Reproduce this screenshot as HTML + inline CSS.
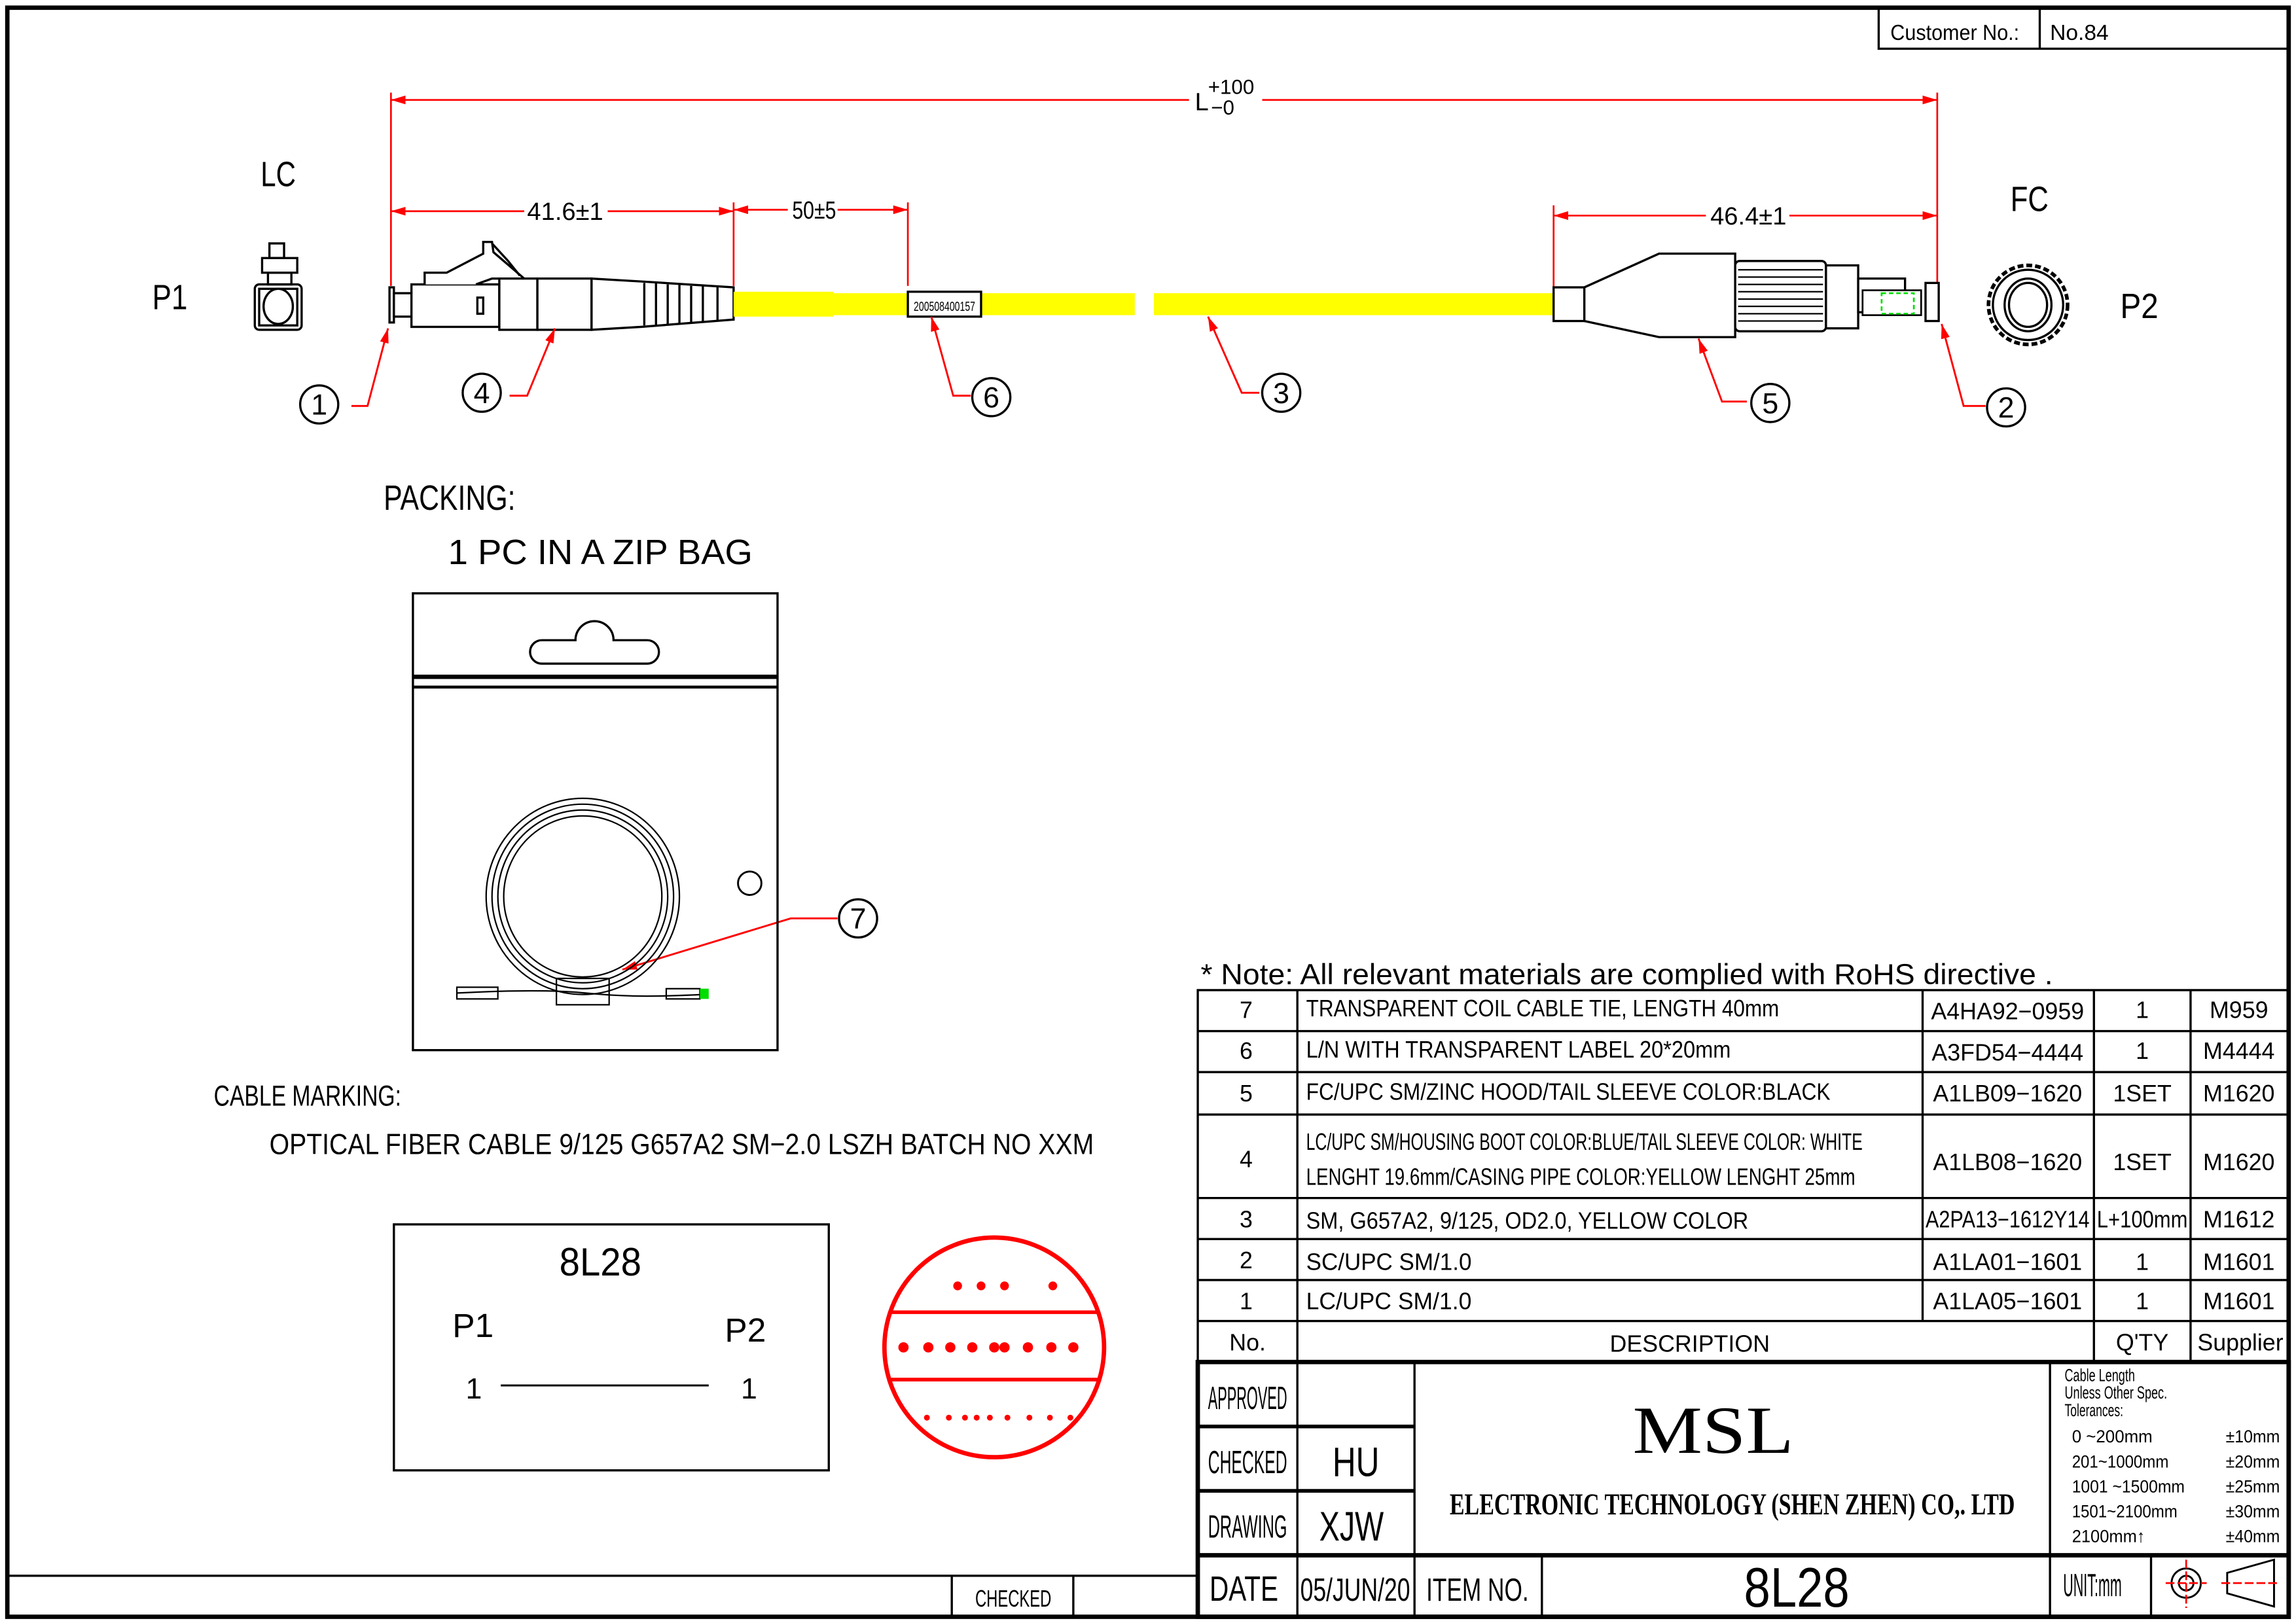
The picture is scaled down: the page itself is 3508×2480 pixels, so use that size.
<!DOCTYPE html>
<html><head><meta charset="utf-8"><style>
html,body{margin:0;padding:0;background:#fff;}
svg{display:block;}
text{font-family:"Liberation Sans Narrow","Liberation Sans",sans-serif;fill:#000;}
</style></head><body>
<svg width="3508" height="2480" viewBox="0 0 1568 1108" xmlns="http://www.w3.org/2000/svg">
<defs>
<marker id="a" viewBox="0 0 10 6" refX="10" refY="3" markerWidth="10" markerHeight="6" markerUnits="userSpaceOnUse" orient="auto-start-reverse"><path d="M0,0L10,3L0,6z" fill="#f00"/></marker>
</defs>
<rect x="0" y="0" width="1568" height="1108" fill="#fff"/>
<rect x="5" y="5" width="1558" height="1099" fill="none" stroke="#000" stroke-width="3"/>
<path d="M1283,5V33H1563M1393,5V33" fill="none" stroke="#000" stroke-width="1.5"/>
<text x="1291" y="27" font-size="15" textLength="88" lengthAdjust="spacingAndGlyphs">Customer No.:</text>
<text x="1400" y="27" font-size="15">No.84</text>

<g stroke="#f00" stroke-width="1.2" fill="none">
<line x1="267" y1="63" x2="267" y2="195"/>
<line x1="1323" y1="63" x2="1323" y2="195"/>
<line x1="267" y1="68" x2="812" y2="68" marker-start="url(#a)"/>
<line x1="862" y1="68" x2="1323" y2="68" marker-end="url(#a)"/>
<line x1="501" y1="138" x2="501" y2="195"/>
<line x1="620" y1="138" x2="620" y2="195"/>
<line x1="267" y1="144" x2="358" y2="144" marker-start="url(#a)"/>
<line x1="415" y1="144" x2="501" y2="144" marker-end="url(#a)"/>
<line x1="501" y1="143" x2="538" y2="143" marker-start="url(#a)"/>
<line x1="572" y1="143" x2="620" y2="143" marker-end="url(#a)"/>
<line x1="1061" y1="140" x2="1061" y2="196"/>
<line x1="1061" y1="147" x2="1165" y2="147" marker-start="url(#a)"/>
<line x1="1222" y1="147" x2="1323" y2="147" marker-end="url(#a)"/>
</g>
<text x="816" y="75" font-size="17">L</text>
<text x="825" y="64" font-size="14">+100</text>
<text x="827" y="78" font-size="14">−0</text>
<text x="360" y="150" font-size="17" textLength="52" lengthAdjust="spacingAndGlyphs">41.6±1</text>
<text x="541" y="149" font-size="17" textLength="30" lengthAdjust="spacingAndGlyphs">50±5</text>
<text x="1168" y="153" font-size="17" textLength="52" lengthAdjust="spacingAndGlyphs">46.4±1</text>

<text x="178" y="127" font-size="24" textLength="24" lengthAdjust="spacingAndGlyphs">LC</text>
<text x="104" y="211" font-size="24" textLength="24" lengthAdjust="spacingAndGlyphs">P1</text>
<text x="1373" y="144" font-size="24" textLength="26" lengthAdjust="spacingAndGlyphs">FC</text>
<text x="1448" y="217" font-size="24" textLength="26" lengthAdjust="spacingAndGlyphs">P2</text>

<g fill="none" stroke="#000" stroke-width="1.5">
<rect x="184" y="166" width="10" height="10"/>
<rect x="179" y="176" width="24" height="10"/>
<rect x="183" y="186" width="16" height="8"/>
<rect x="174" y="194" width="32" height="31" rx="3"/>
<rect x="177" y="197" width="26" height="25"/>
<ellipse cx="190" cy="209" rx="10" ry="12"/>
</g>
<g fill="#fff" stroke="#000" stroke-width="1.5">
<rect x="266" y="196" width="3" height="24"/>
<rect x="269" y="200" width="12" height="16"/>
<rect x="281" y="194" width="60" height="29"/>
<path d="M290,194V186H305L330,173V165H336L337,172L358,190H336L325,194"/>
<path d="M336,166L347,178L355,188"/>
<rect x="326" y="203" width="4" height="11"/>
<rect x="341" y="190" width="26" height="35"/>
<rect x="367" y="190" width="37" height="35"/>
<path d="M404,190L438,192L501,196V218L438,223L404,225Z"/>
</g>
<g stroke="#000" stroke-width="1.5">
<line x1="440" y1="193" x2="440" y2="222"/><line x1="448" y1="193" x2="448" y2="222"/>
<line x1="456" y1="194" x2="456" y2="221"/><line x1="464" y1="194" x2="464" y2="221"/>
<line x1="472" y1="195" x2="472" y2="220"/><line x1="480" y1="195" x2="480" y2="220"/>
<line x1="490" y1="195" x2="490" y2="219"/>
</g>
<rect x="501" y="199" width="68" height="17" fill="#ff0"/>
<rect x="569" y="200" width="206" height="15" fill="#ff0"/>
<rect x="620" y="199" width="50" height="17" fill="#fff" stroke="#000" stroke-width="1.5"/>
<text x="624" y="212" font-size="9" textLength="42" lengthAdjust="spacingAndGlyphs">200508400157</text>
<rect x="788" y="200" width="273" height="15" fill="#ff0"/>
<g fill="#fff" stroke="#000" stroke-width="1.5">
<rect x="1061" y="196" width="21" height="23"/>
<path d="M1082,196L1133,173H1185V230H1133L1082,219Z"/>
<rect x="1185" y="178" width="62" height="48" rx="3"/>
<rect x="1247" y="181" width="22" height="43"/>
<rect x="1269" y="190" width="32" height="23"/>
</g>
<g stroke="#000" stroke-width="1">
<line x1="1187" y1="184" x2="1245" y2="184"/><line x1="1187" y1="189" x2="1245" y2="189"/>
<line x1="1187" y1="194" x2="1245" y2="194"/><line x1="1187" y1="199" x2="1245" y2="199"/>
<line x1="1187" y1="204" x2="1245" y2="204"/><line x1="1187" y1="209" x2="1245" y2="209"/>
<line x1="1187" y1="214" x2="1245" y2="214"/><line x1="1187" y1="219" x2="1245" y2="219"/>
</g>
<rect x="1272" y="198" width="40" height="17" fill="#fff" stroke="#000" stroke-width="1.2"/>
<rect x="1285" y="200" width="22" height="14" fill="none" stroke="#0d0" stroke-width="1.2" stroke-dasharray="3,2"/>
<rect x="1315" y="193" width="9" height="26" fill="#fff" stroke="#000" stroke-width="1.5"/>
<g fill="none" stroke="#000" stroke-width="1.5">
<circle cx="1385" cy="208" r="27" stroke-dasharray="4,2" stroke-width="2.5"/>
<circle cx="1385" cy="208" r="24"/>
<ellipse cx="1385" cy="208" rx="16" ry="18"/>
<ellipse cx="1385" cy="208" rx="13" ry="15"/>
</g>

<g fill="none" stroke="#f00" stroke-width="1.3">
<polyline points="240,277 251,277 265,224" marker-end="url(#a)"/>
<polyline points="348,270 360,270 379,224" marker-end="url(#a)"/>
<polyline points="663,270 651,270 636,216" marker-end="url(#a)"/>
<polyline points="860,268 848,268 825,216" marker-end="url(#a)"/>
<polyline points="1193,274 1176,274 1160,231" marker-end="url(#a)"/>
<polyline points="1356,277 1341,277 1326,221" marker-end="url(#a)"/>
<polyline points="572,627 540,627 425,662" marker-end="url(#a)"/>
</g>
<g fill="#fff" stroke="#000" stroke-width="1.5">
<circle cx="218" cy="276" r="13"/><circle cx="329" cy="268" r="13"/>
<circle cx="677" cy="271" r="13"/><circle cx="875" cy="268" r="13"/>
<circle cx="1209" cy="275" r="13"/><circle cx="1370" cy="278" r="13"/>
<circle cx="586" cy="627" r="13"/>
</g>
<g font-size="20" text-anchor="middle">
<text x="218" y="283">1</text><text x="329" y="275">4</text><text x="677" y="278">6</text>
<text x="875" y="275">3</text><text x="1209" y="282">5</text><text x="1370" y="285">2</text>
<text x="586" y="634">7</text>
</g>

<text x="262" y="348" font-size="24" textLength="90" lengthAdjust="spacingAndGlyphs">PACKING:</text>
<text x="306" y="385" font-size="24" textLength="208" lengthAdjust="spacingAndGlyphs">1  PC  IN  A  ZIP  BAG</text>
<rect x="282" y="405" width="249" height="312" fill="none" stroke="#000" stroke-width="1.5"/>
<line x1="282" y1="462" x2="531" y2="462" stroke="#000" stroke-width="3"/>
<line x1="282" y1="469" x2="531" y2="469" stroke="#000" stroke-width="2"/>
<path d="M370,437H393A13,13 0 0 1 419,437H442A8,8 0 0 1 442,453H370A8,8 0 0 1 370,437Z" fill="none" stroke="#000" stroke-width="1.5"/>
<circle cx="512" cy="603" r="8" fill="none" stroke="#000" stroke-width="1.3"/>
<g fill="none" stroke="#000" stroke-width="1">
<ellipse cx="398" cy="612" rx="66" ry="67"/><ellipse cx="398" cy="612" rx="62" ry="63"/>
<ellipse cx="398" cy="612" rx="58" ry="59"/><ellipse cx="398" cy="612" rx="54" ry="55"/>
<path d="M312,678C350,676 380,676 400,678S440,681 480,679"/>
<rect x="380" y="668" width="36" height="18"/>
<path d="M312,674H340V682H312Z"/><path d="M455,675H478V682H455Z"/>
</g>
<rect x="478" y="675" width="6" height="7" fill="#0d0"/>

<text x="146" y="755" font-size="20" textLength="128" lengthAdjust="spacingAndGlyphs">CABLE MARKING:</text>
<text x="184" y="788" font-size="20" textLength="563" lengthAdjust="spacingAndGlyphs">OPTICAL  FIBER  CABLE  9/125  G657A2  SM−2.0    LSZH    BATCH  NO  XXM</text>

<rect x="269" y="836" width="297" height="168" fill="none" stroke="#000" stroke-width="1.5"/>
<text x="410" y="871" font-size="27" text-anchor="middle" textLength="56" lengthAdjust="spacingAndGlyphs">8L28</text>
<text x="309" y="913" font-size="23">P1</text>
<text x="495" y="916" font-size="23">P2</text>
<text x="318" y="955" font-size="20">1</text>
<text x="506" y="955" font-size="20">1</text>
<line x1="342" y1="946" x2="484" y2="946" stroke="#000" stroke-width="1.3"/>

<circle cx="679" cy="920" r="75" fill="none" stroke="#f00" stroke-width="3"/>
<line x1="608" y1="896" x2="750" y2="896" stroke="#f00" stroke-width="2.5"/>
<line x1="606" y1="942" x2="752" y2="942" stroke="#f00" stroke-width="2.5"/>
<g fill="#f00">
<circle cx="654" cy="878" r="3"/><circle cx="670" cy="878" r="3"/><circle cx="686" cy="878" r="3"/><circle cx="719" cy="878" r="3"/>
<circle cx="617" cy="920" r="3.5"/><circle cx="634" cy="920" r="3.5"/><circle cx="649" cy="920" r="3.5"/><circle cx="664" cy="920" r="3.5"/><circle cx="679" cy="920" r="3.5"/><circle cx="686" cy="920" r="3.5"/><circle cx="702" cy="920" r="3.5"/><circle cx="718" cy="920" r="3.5"/><circle cx="733" cy="920" r="3.5"/>
<circle cx="633" cy="968" r="2"/><circle cx="648" cy="968" r="2"/><circle cx="659" cy="968" r="2"/><circle cx="667" cy="968" r="2"/><circle cx="676" cy="968" r="2"/><circle cx="688" cy="968" r="2"/><circle cx="703" cy="968" r="2"/><circle cx="717" cy="968" r="2"/><circle cx="731" cy="968" r="2"/>
</g>

<text x="820" y="672" font-size="20" textLength="582" lengthAdjust="spacingAndGlyphs">*  Note:  All  relevant  materials  are  complied  with  RoHS  directive .</text>

<g fill="none" stroke="#000" stroke-width="1.5">
<rect x="818" y="676" width="745" height="254"/>
<path d="M818,704H1563M818,732H1563M818,761H1563M818,818H1563M818,846H1563M818,874H1563M818,902H1563"/>
<path d="M886,676V930M1313,676V902M1430,676V930M1496,676V930"/>
</g>
<g font-size="16" text-anchor="middle">
<text x="851" y="695">7</text><text x="851" y="723">6</text><text x="851" y="752">5</text><text x="851" y="797">4</text>
<text x="851" y="838">3</text><text x="851" y="866">2</text><text x="851" y="894">1</text><text x="852" y="922">No.</text>
<text x="1371" y="696">A4HA92−0959</text><text x="1371" y="724">A3FD54−4444</text><text x="1371" y="752">A1LB09−1620</text>
<text x="1371" y="799">A1LB08−1620</text><text x="1371" y="838" textLength="112" lengthAdjust="spacingAndGlyphs">A2PA13−1612Y14</text>
<text x="1371" y="867">A1LA01−1601</text><text x="1371" y="894">A1LA05−1601</text>
<text x="1463" y="695">1</text><text x="1463" y="723">1</text><text x="1463" y="752">1SET</text><text x="1463" y="799">1SET</text>
<text x="1463" y="838" textLength="62" lengthAdjust="spacingAndGlyphs">L+100mm</text><text x="1463" y="867">1</text><text x="1463" y="894">1</text>
<text x="1463" y="922">Q'TY</text>
<text x="1529" y="695">M959</text><text x="1529" y="723">M4444</text><text x="1529" y="752">M1620</text><text x="1529" y="799">M1620</text>
<text x="1529" y="838">M1612</text><text x="1529" y="867">M1601</text><text x="1529" y="894">M1601</text><text x="1530" y="922">Supplier</text>
<text x="1154" y="923">DESCRIPTION</text>
</g>
<g font-size="16">
<text x="892" y="694" textLength="323" lengthAdjust="spacingAndGlyphs">TRANSPARENT  COIL  CABLE  TIE,  LENGTH  40mm</text>
<text x="892" y="722" textLength="290" lengthAdjust="spacingAndGlyphs">L/N  WITH  TRANSPARENT  LABEL  20*20mm</text>
<text x="892" y="751" textLength="358" lengthAdjust="spacingAndGlyphs">FC/UPC  SM/ZINC  HOOD/TAIL  SLEEVE  COLOR:BLACK</text>
<text x="892" y="785" textLength="380" lengthAdjust="spacingAndGlyphs">LC/UPC  SM/HOUSING  BOOT  COLOR:BLUE/TAIL  SLEEVE  COLOR:  WHITE</text>
<text x="892" y="809" textLength="375" lengthAdjust="spacingAndGlyphs">LENGHT  19.6mm/CASING  PIPE  COLOR:YELLOW  LENGHT  25mm</text>
<text x="892" y="839" textLength="302" lengthAdjust="spacingAndGlyphs">SM,  G657A2,  9/125,  OD2.0,  YELLOW  COLOR</text>
<text x="892" y="867" textLength="113" lengthAdjust="spacingAndGlyphs">SC/UPC  SM/1.0</text>
<text x="892" y="894" textLength="113" lengthAdjust="spacingAndGlyphs">LC/UPC  SM/1.0</text>
</g>

<g fill="none" stroke="#000">
<rect x="818" y="930" width="745" height="174" stroke-width="3"/>
<path d="M818,974H966M818,1018H966" stroke-width="2.5"/>
<path d="M818,1062H1563" stroke-width="3"/>
<path d="M886,930V1104M966,930V1104M1400,930V1104M1053,1062V1104M1469,1062V1104" stroke-width="1.5"/>
<path d="M5,1076H818M650,1076V1104M733,1076V1104" stroke-width="1.5"/>
</g>
<g font-size="22">
<text x="825" y="962" textLength="54" lengthAdjust="spacingAndGlyphs">APPROVED</text>
<text x="825" y="1006" textLength="54" lengthAdjust="spacingAndGlyphs">CHECKED</text>
<text x="825" y="1050" textLength="54" lengthAdjust="spacingAndGlyphs">DRAWING</text>
<text x="826" y="1093" font-size="24" textLength="47" lengthAdjust="spacingAndGlyphs">DATE</text>
<text x="888" y="1093" textLength="75" lengthAdjust="spacingAndGlyphs">05/JUN/20</text>
<text x="974" y="1093" font-size="22" textLength="70" lengthAdjust="spacingAndGlyphs">ITEM  NO.</text>
<text x="1409" y="1090" textLength="40" lengthAdjust="spacingAndGlyphs">UNIT:mm</text>
<text x="666" y="1097" font-size="16" textLength="52" lengthAdjust="spacingAndGlyphs">CHECKED</text>
</g>
<text x="926" y="1008" font-size="28" text-anchor="middle" textLength="32" lengthAdjust="spacingAndGlyphs">HU</text>
<text x="923" y="1052" font-size="28" text-anchor="middle" textLength="44" lengthAdjust="spacingAndGlyphs">XJW</text>
<text x="1227" y="1097" font-size="38" text-anchor="middle" textLength="72" lengthAdjust="spacingAndGlyphs">8L28</text>
<text x="1170" y="992" font-size="46" text-anchor="middle" style="font-family:'Liberation Serif',serif" textLength="110" lengthAdjust="spacingAndGlyphs">MSL</text>
<text x="990" y="1034" font-size="21" textLength="386" lengthAdjust="spacingAndGlyphs" style="font-family:'Liberation Serif',serif;font-weight:bold">ELECTRONIC  TECHNOLOGY  (SHEN  ZHEN)  CO,.  LTD</text>
<g font-size="12">
<text x="1410" y="943" textLength="48" lengthAdjust="spacingAndGlyphs">Cable  Length</text>
<text x="1410" y="955" textLength="70" lengthAdjust="spacingAndGlyphs">Unless  Other  Spec.</text>
<text x="1410" y="967" textLength="40" lengthAdjust="spacingAndGlyphs">Tolerances:</text>
<text x="1415" y="985" textLength="55" lengthAdjust="spacingAndGlyphs">0  ~200mm</text>
<text x="1415" y="1002" textLength="66" lengthAdjust="spacingAndGlyphs">201~1000mm</text>
<text x="1415" y="1019" textLength="77" lengthAdjust="spacingAndGlyphs">1001  ~1500mm</text>
<text x="1415" y="1036" textLength="72" lengthAdjust="spacingAndGlyphs">1501~2100mm</text>
<text x="1415" y="1053" textLength="50" lengthAdjust="spacingAndGlyphs">2100mm↑</text>
<text x="1520" y="985" textLength="37" lengthAdjust="spacingAndGlyphs">±10mm</text>
<text x="1520" y="1002" textLength="37" lengthAdjust="spacingAndGlyphs">±20mm</text>
<text x="1520" y="1019" textLength="37" lengthAdjust="spacingAndGlyphs">±25mm</text>
<text x="1520" y="1036" textLength="37" lengthAdjust="spacingAndGlyphs">±30mm</text>
<text x="1520" y="1053" textLength="37" lengthAdjust="spacingAndGlyphs">±40mm</text>
</g>
<g fill="none" stroke="#000" stroke-width="1.3">
<circle cx="1493" cy="1081" r="10"/><circle cx="1493" cy="1081" r="5"/>
<path d="M1521,1074L1553,1065V1097L1521,1088Z"/>
</g>
<g stroke="#f00" stroke-width="1.2" stroke-dasharray="6,2">
<line x1="1479" y1="1081" x2="1507" y2="1081"/><line x1="1493" y1="1065" x2="1493" y2="1098"/>
<line x1="1517" y1="1081" x2="1557" y2="1081"/>
</g>
</svg>
</body></html>
